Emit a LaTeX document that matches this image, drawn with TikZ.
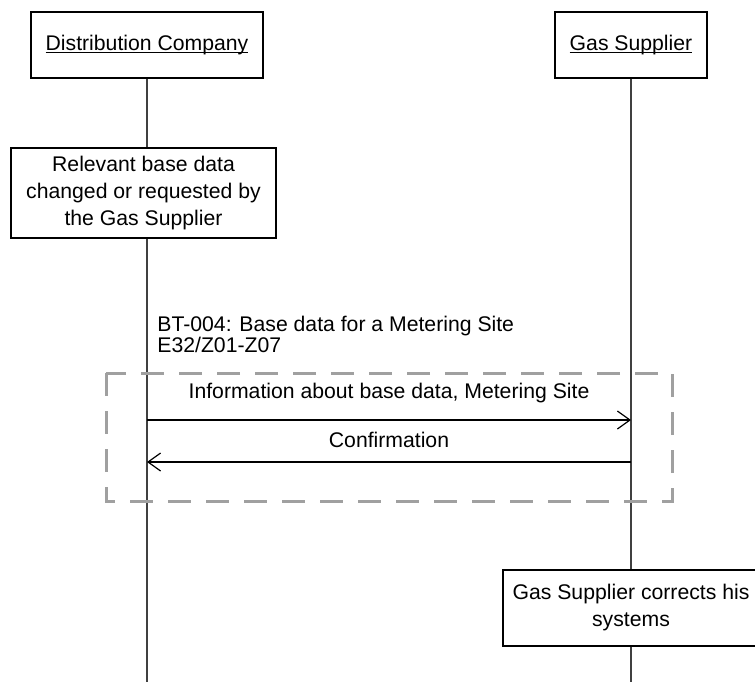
\documentclass[tikz,border=0pt]{standalone}
\usepackage{fontspec}
\setmainfont{Liberation Sans}
\usetikzlibrary{arrows.meta,positioning}
\definecolor{lifeline}{HTML}{404040}
\definecolor{groupgray}{HTML}{A0A0A0}
\newcommand\ultext[1]{\setbox0\hbox{#1}\rlap{\rule[-1.3pt]{\wd0}{0.5pt}}\box0}

\begin{document}
\begin{tikzpicture}[x=0.5pt, y=-0.5pt,
  every node/.style={font=\fontsize{10.6}{13.5}\selectfont},
  actor/.style={draw, line width=0.6pt, minimum height=33pt, inner sep=2pt},
  activity/.style={draw=black, line width=0.75pt, align=center, inner sep=2pt},
  life/.style={draw=lifeline, line width=0.7pt},
  msg/.style={line width=0.6pt, -{Straight Barb[length=6.3pt, width=9pt]}},
  groupbox/.style={draw=groupgray, line width=1.5pt, dash pattern=on 11.5pt off 7.5pt}]
  \useasboundingbox (0,0) rectangle (755,682);

  \node[actor, minimum width=116pt] (dist) at (147,45) {\ultext{Distribution Company}};
  \node[actor, minimum width=76pt] (gas) at (631,45) {\ultext{Gas Supplier}};

  \node[activity, minimum width=132.5pt, minimum height=45pt] (changed) at (143.5,193)
    {Relevant base data\\changed or requested by\\the Gas Supplier};
  \node[activity, minimum width=128pt, minimum height=38pt] (corrects) at (631,608)
    {Gas Supplier corrects his\\systems};

  \coordinate (dend) at (147,682);
  \coordinate (gend) at (631,682);
  \coordinate (d1) at (147,420);
  \coordinate (g1) at (631,420);
  \coordinate (d2) at (147,462);
  \coordinate (g2) at (631,462);

  \draw[life] (dist.south) -- (dist |- changed.north);
  \draw[life] (dist |- changed.south) -- (dend);
  \draw[life] (gas.south) -- (corrects.north);
  \draw[life] (corrects.south) -- (gend);

  \draw[groupbox] (106,373) rectangle (672,501);

  \node[anchor=base west, inner sep=0pt] (bt) at (157,331) {BT-004: Base data for a Metering Site};
  \node[anchor=base west, inner sep=0pt] (codes) at (157,352.5) {E32/Z01-Z07};

  \draw[msg] (d1) -- node[above=8.5pt, inner sep=0pt] (info) {Information about base data, Metering Site} (g1);
  \draw[msg] (g2) -- node[above=7pt, inner sep=0pt] (conf) {Confirmation} (d2);
\end{tikzpicture}
\end{document}
